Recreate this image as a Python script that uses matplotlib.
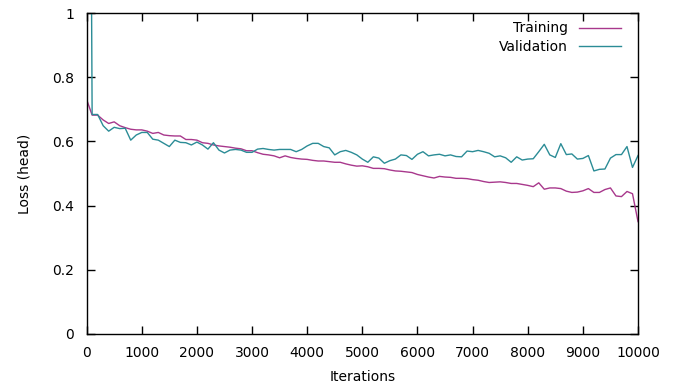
import numpy as np
import matplotlib
matplotlib.use("Agg")
import matplotlib.pyplot as plt

# evaluation every 100 iterations
iterations = np.arange(0, 10001, 100)

training = [
    0.731, 0.682, 0.682, 0.667, 0.656, 0.661, 0.649, 0.643, 0.638, 0.636,
    0.636, 0.632, 0.625, 0.628, 0.620, 0.618, 0.617, 0.617, 0.606, 0.606,
    0.604, 0.596, 0.594, 0.589, 0.586, 0.584, 0.582, 0.579, 0.577, 0.571,
    0.571, 0.565, 0.560, 0.558, 0.555, 0.549, 0.555, 0.550, 0.547, 0.545,
    0.544, 0.541, 0.539, 0.539, 0.537, 0.535, 0.535, 0.530, 0.526, 0.523,
    0.524, 0.521, 0.516, 0.516, 0.515, 0.511, 0.508, 0.507, 0.505, 0.503,
    0.497, 0.493, 0.489, 0.486, 0.491, 0.489, 0.488, 0.485, 0.485, 0.484,
    0.481, 0.479, 0.475, 0.472, 0.473, 0.474, 0.472, 0.469, 0.469, 0.466,
    0.463, 0.459, 0.471, 0.451, 0.455, 0.455, 0.453, 0.445, 0.441, 0.442,
    0.446, 0.453, 0.441, 0.441, 0.450, 0.455, 0.430, 0.428, 0.444, 0.437,
    0.350,
]

validation = [
    4.000, 0.684, 0.684, 0.649, 0.632, 0.644, 0.640, 0.641, 0.604, 0.620,
    0.628, 0.628, 0.607, 0.604, 0.594, 0.584, 0.604, 0.597, 0.596, 0.589,
    0.598, 0.589, 0.576, 0.596, 0.573, 0.564, 0.573, 0.575, 0.573, 0.566,
    0.566, 0.576, 0.578, 0.575, 0.573, 0.575, 0.575, 0.575, 0.568, 0.575,
    0.586, 0.594, 0.594, 0.584, 0.580, 0.558, 0.568, 0.572, 0.566, 0.558,
    0.545, 0.535, 0.552, 0.548, 0.532, 0.540, 0.545, 0.558, 0.556, 0.544,
    0.560, 0.568, 0.555, 0.558, 0.560, 0.555, 0.558, 0.553, 0.552, 0.570,
    0.568, 0.572, 0.568, 0.563, 0.552, 0.555, 0.549, 0.535, 0.552, 0.542,
    0.545, 0.546, 0.568, 0.591, 0.558, 0.550, 0.593, 0.559, 0.561, 0.545,
    0.547, 0.556, 0.508, 0.513, 0.514, 0.548, 0.559, 0.559, 0.584, 0.519,
    0.556,
]

x_ticks = np.arange(0, 10001, 1000)
y_ticks = [0, 0.2, 0.4, 0.6, 0.8, 1]
y_tick_labels = ['0', '0.2', '0.4', '0.6', '0.8', '1']

plt.rcParams['font.family'] = ['DejaVu Sans']
plt.rcParams['font.size'] = 10

fig = plt.figure(figsize=(6.82, 3.86), dpi=100)
ax = fig.add_axes([0.127, 0.135, 0.8085, 0.831])

ax.plot(iterations, training, color='#a8388c', lw=1.0, label='Training')
ax.plot(iterations, validation, color='#2b8c96', lw=1.0, label='Validation')

ax.set_xlim(0, 10000)
ax.set_ylim(0, 1)
ax.set_xticks(x_ticks)
ax.set_yticks(y_ticks)
ax.set_yticklabels(y_tick_labels)
ax.tick_params(direction='in', length=6, width=1, top=True, right=True, pad=9)
for s in ax.spines.values():
    s.set_linewidth(1)

ax.set_xlabel('Iterations', labelpad=7)
ax.set_ylabel('Loss (head)', labelpad=15)

ax.legend(loc='upper right', frameon=False, markerfirst=False,
          handlelength=3.0, handletextpad=0.8, labelspacing=0.3,
          borderaxespad=0.2, bbox_to_anchor=(0.984, 1.0))

fig.savefig('out.png', dpi=100)
